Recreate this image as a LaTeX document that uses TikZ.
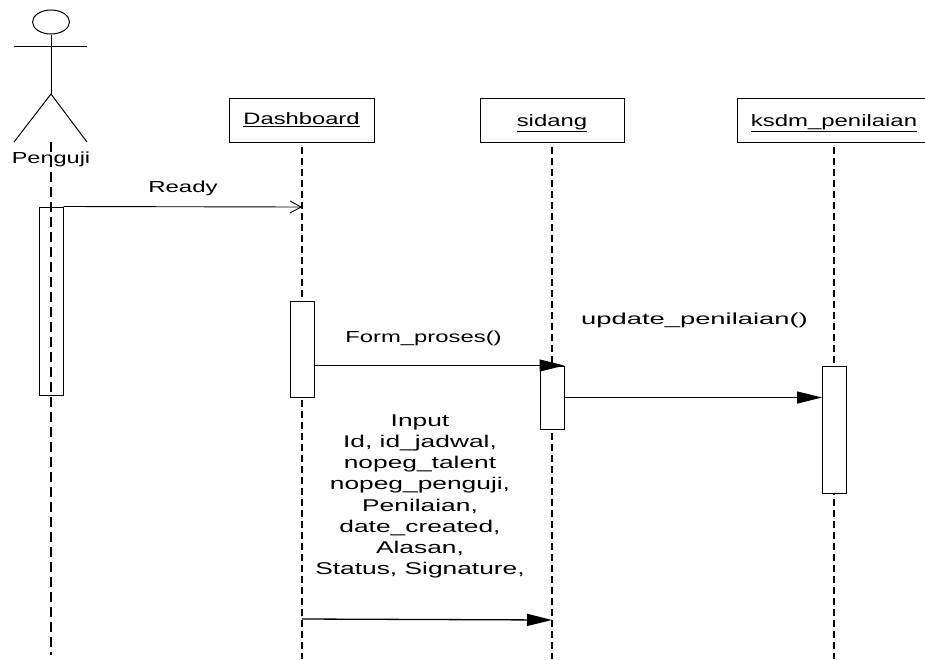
\documentclass[tikz,border=0pt]{standalone}
\usepackage{fontspec}
\setmainfont{Liberation Sans}
\usetikzlibrary{arrows.meta,shapes.geometric}
\newcommand{\sx}[2]{\scalebox{#1}[1]{#2}}
\tikzset{
  line/.style={line width=1pt,black},
  objbox/.style={draw,line width=1pt,minimum height=44pt,inner sep=0pt,font=\fontsize{16.5}{19}\selectfont},
  actbox/.style={draw,line width=1pt,inner sep=0pt,minimum width=24pt,fill=white},
  actclear/.style={actbox,fill=none},
  lifeline/.style={line width=1.1pt,dash pattern=on 6.5pt off 4.5pt},
  actorline/.style={line width=1.7pt,dash pattern=on 10pt off 5pt},
  solid msg/.style={line width=1.3pt,-{Triangle[length=25pt,width=12pt]}},
  open msg/.style={line width=.9pt,-{Straight Barb[length=11pt,width=12pt]}},
  lbl/.style={inner sep=0pt,font=\fontsize{16}{19}\selectfont,align=center},
  biglbl/.style={inner sep=0pt,font=\fontsize{17}{21.2}\selectfont,align=center},
}
\begin{document}
\begin{tikzpicture}[x=1pt,y=-1pt]
\useasboundingbox (0,0) rectangle (925,659);
\clip (0,0) rectangle (925,659);
% objects
\node[objbox,minimum width=145pt,text height=14pt,text depth=5pt] (dash) at (301.5,120) {\sx{1.44}{\underline{Dashboard}}};
\node[objbox,minimum width=144pt,text height=16pt,text depth=4pt] (sid) at (552,120.5) {\sx{1.45}{\underline{sidang}}};
\node[objbox,minimum width=194pt,text height=16pt,text depth=4pt] (ksdm) at (834,120) {\sx{1.45}{\underline{ksdm\_penilaian}}};
% actor
\node[draw,line width=1pt,ellipse,minimum width=37pt,minimum height=24pt,inner sep=0pt] (head) at (51,22) {};
\coordinate (hip) at (51,94);
\coordinate (armL) at (14,46);
\coordinate (armR) at (87,46);
\coordinate (legL) at (14,142);
\coordinate (legR) at (87,142);
\draw[line] (head.south) -- (hip);
\draw[line] (armL) -- (armR);
\draw[line] (legL) -- (hip) -- (legR);
\node[lbl] (actor) at (51,159) {\sx{1.47}{Penguji}};
% lifelines
\coordinate (lA0) at (51,142);
\coordinate (lA1) at (51,655);
\coordinate (lD0) at (302,147);
\coordinate (lD1) at (302,659);
\coordinate (lS0) at (552,147);
\coordinate (lS1) at (552,659);
\coordinate (lK0) at (834,147);
\coordinate (lK1) at (834,659);
\draw[actorline] (lA0) -- (lA1);
\draw[lifeline] (lD0) -- (lD1);
\draw[lifeline] (lS0) -- (lS1);
\draw[lifeline] (lK0) -- (lK1);
% activations
\node[actclear,minimum height=188pt] (aA) at (51,301) {};
\node[actbox,minimum height=96pt] (aD) at (302,349) {};
\node[actbox,minimum height=63pt] (aS) at (552,397.5) {};
\node[actbox,minimum height=127pt] (aK) at (834.5,429.5) {};
% messages
\coordinate (readyEnd) at (302,207);
\coordinate (inS) at (302,619);
\coordinate (inE) at (552,620);
\draw[open msg] (aA.north east) -- (readyEnd);
\draw[solid msg] (aD.east |- aS.north) -- (aS.north east);
\draw[solid msg] (aS.east) -- (aK.west |- aS.east);
\draw[solid msg] (inS) -- (inE);
% labels
\node[lbl] (ready) at (183,188.5) {\sx{1.5}{Ready}};
\node[lbl] (form) at (423.5,338.5) {\sx{1.49}{Form\_proses()}};
\node[lbl] (upd) at (694.5,320.5) {\sx{1.71}{update\_penilaian()}};
\node[biglbl] (input) at (420,496.5) {%
\sx{1.55}{Input}\\
\sx{1.55}{Id, id\_jadwal,}\\
\sx{1.55}{nopeg\_talent}\\
\sx{1.55}{nopeg\_penguji,}\\
\sx{1.55}{Penilaian,}\\
\sx{1.55}{date\_created,}\\
\sx{1.55}{Alasan,}\\
\sx{1.55}{Status, Signature,}};
\end{tikzpicture}
\end{document}
